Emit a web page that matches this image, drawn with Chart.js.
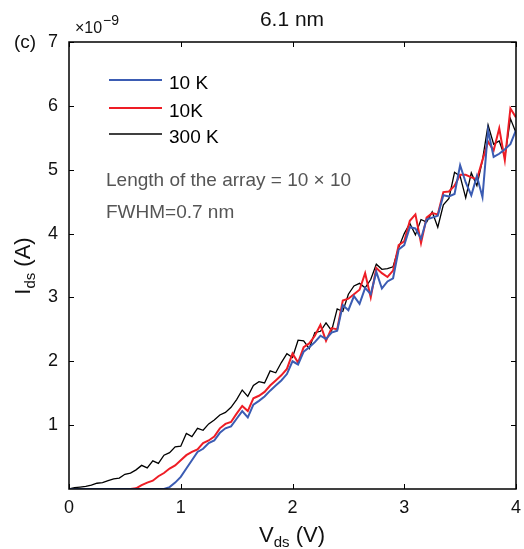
<!DOCTYPE html>
<html>
<head>
<meta charset="utf-8">
<script src="https://cdn.jsdelivr.net/npm/chart.js@4.4.1/dist/chart.umd.min.js"></script>
<style>
  html, body { margin: 0; padding: 0; background: #fff; }
  #wrap { width: 524px; height: 549px; }
</style>
</head>
<body>
<div id="wrap"><canvas id="ivChart" width="524" height="549"></canvas></div>
<script>
// Vds sweep, 0 to 4 V in 0.05 V steps
const vds = [];
for (let i = 0; i <= 80; i++) vds.push(+(i * 0.05).toFixed(2));

const seriesLabels = ["10 K", "10K", "300 K"];
const seriesColors = ["#3b5cb3", "#ee1d25", "#000000"];

// Ids in units of 1e-9 A
const blue10K = [
  0, 0, 0, 0, 0, 0, 0, 0, 0, 0, 0, 0, 0, 0, 0, 0, 0, 0,
  0.03, 0.10, 0.19, 0.32, 0.45, 0.58, 0.63, 0.72, 0.76, 0.88, 0.95, 0.98,
  1.10, 1.22, 1.12, 1.32, 1.38, 1.45, 1.54, 1.62, 1.70, 1.80,
  2.00, 1.95, 2.15, 2.22, 2.30, 2.40, 2.35, 2.45, 2.48, 2.88,
  2.80, 3.02, 2.90, 3.15, 3.05, 3.40, 3.14, 3.25, 3.30, 3.75,
  3.82, 4.10, 4.08, 3.92, 4.22, 4.25, 4.28, 4.60, 4.58, 4.62,
  5.07, 4.80, 4.60, 4.90, 4.57, 5.62, 5.20, 5.25, 5.32, 5.40, 5.62
];
const red10K = [
  0, 0, 0, 0, 0, 0, 0, 0, 0, 0, 0, 0,
  0.01, 0.06, 0.10, 0.13, 0.20, 0.25, 0.32, 0.37, 0.45, 0.53, 0.58, 0.62,
  0.72, 0.76, 0.82, 0.95, 1.02, 1.05, 1.18, 1.30, 1.22, 1.42, 1.46, 1.52,
  1.62, 1.70, 1.78, 1.88, 2.12, 1.98, 2.22, 2.28, 2.40, 2.57, 2.32, 2.52,
  2.50, 2.95, 2.98, 3.05, 3.12, 3.38, 3.00, 3.46, 3.38, 3.32, 3.42, 3.82,
  3.88, 4.20, 4.30, 3.85, 4.25, 4.32, 4.30, 4.65, 4.66, 4.75, 4.92, 4.92,
  4.88, 4.85, 5.15, 5.44, 5.30, 5.65, 5.15, 5.96, 5.82
];
const black300K = [
  0, 0.02, 0.03, 0.04, 0.06, 0.09, 0.10, 0.13, 0.16, 0.17,
  0.23, 0.25, 0.30, 0.37, 0.33, 0.44, 0.40, 0.53, 0.57, 0.66,
  0.67, 0.87, 0.82, 0.95, 0.92, 1.02, 1.08, 1.16, 1.20, 1.28,
  1.40, 1.55, 1.45, 1.62, 1.68, 1.66, 1.85, 1.82, 1.98, 2.12,
  2.06, 2.33, 2.32, 2.20, 2.45, 2.47, 2.60, 2.48, 2.82, 2.78,
  3.05, 3.18, 3.22, 3.15, 3.28, 3.52, 3.44, 3.45, 3.48, 3.78,
  4.00, 4.16, 3.98, 4.22, 4.18, 4.34, 4.10, 4.45, 4.55, 4.96,
  4.90, 4.56, 4.95, 4.75, 5.15, 5.70, 5.40, 5.45, 5.20, 5.80, 5.58
];
const seriesData = [blue10K, red10K, black300K];
const seriesWidths = [2, 2, 1.3];

const xTicks = [0, 1, 2, 3, 4];
const yTicks = [1, 2, 3, 4, 5, 6, 7];
const notes = ["Length of the array = 10 \u00d7 10", "FWHM=0.7 nm"];

const FONT = "Liberation Sans, Arial, Helvetica, sans-serif";

const datasets = seriesData.map((arr, k) => ({
  label: seriesLabels[k],
  data: arr.map((v, i) => ({ x: vds[i], y: v })),
  borderColor: seriesColors[k],
  borderWidth: seriesWidths[k],
  pointRadius: 0,
  tension: 0,
  fill: false
}));

// writes main text then a lowered subscript, then the rest
function subText(ctx, parts, cx, y, big, small) {
  ctx.font = big + "px " + FONT;
  const w1 = ctx.measureText(parts[0]).width;
  const w3 = ctx.measureText(parts[2]).width;
  ctx.font = small + "px " + FONT;
  const w2 = ctx.measureText(parts[1]).width;
  const x0 = cx - (w1 + w2 + w3) / 2;
  ctx.font = big + "px " + FONT;
  ctx.fillText(parts[0], x0, y);
  ctx.fillText(parts[2], x0 + w1 + w2, y);
  ctx.font = small + "px " + FONT;
  ctx.fillText(parts[1], x0 + w1, y + 5);
}

// frame, inward ticks, titles, legend and notes
const decor = {
  id: "decor",
  afterDraw(chart) {
    const ctx = chart.ctx;
    const a = chart.chartArea;
    const xs = chart.scales.x, ys = chart.scales.y;
    ctx.save();
    ctx.strokeStyle = "#000";
    ctx.lineWidth = 1.5;
    ctx.strokeRect(a.left, a.top, a.right - a.left, a.bottom - a.top);
    ctx.lineWidth = 1;
    ctx.beginPath();
    xTicks.forEach(t => {
      const p = Math.round(xs.getPixelForValue(t)) + 0.5;
      ctx.moveTo(p, a.bottom); ctx.lineTo(p, a.bottom - 5);
      ctx.moveTo(p, a.top); ctx.lineTo(p, a.top + 5);
    });
    yTicks.forEach(t => {
      const p = Math.round(ys.getPixelForValue(t)) + 0.5;
      ctx.moveTo(a.left, p); ctx.lineTo(a.left + 5, p);
      ctx.moveTo(a.right, p); ctx.lineTo(a.right - 5, p);
    });
    ctx.stroke();

    ctx.fillStyle = "#111";
    ctx.textBaseline = "alphabetic";
    ctx.textAlign = "left";
    // title
    ctx.font = "21px " + FONT;
    ctx.textAlign = "center";
    ctx.fillText("6.1 nm", 292, 26);
    ctx.textAlign = "left";
    // panel tag
    ctx.font = "19px " + FONT;
    ctx.fillText("(c)", 14, 48);
    // exponent
    ctx.font = "16px " + FONT;
    ctx.fillText("\u00d710", 75, 33);
    ctx.font = "14px " + FONT;
    ctx.fillText("\u22129", 103, 25);

    // axis titles
    subText(ctx, ["V", "ds", " (V)"], 292, 542, 22, 15);
    ctx.translate(30, 266);
    ctx.rotate(-Math.PI / 2);
    subText(ctx, ["I", "ds", " (A)"], 0, 0, 22, 15);
    ctx.setTransform(1, 0, 0, 1, 0, 0);

    // legend
    const ly = [80, 108, 134];
    ctx.font = "19px " + FONT;
    seriesLabels.forEach((lab, k) => {
      ctx.strokeStyle = seriesColors[k];
      ctx.lineWidth = seriesWidths[k];
      ctx.beginPath();
      ctx.moveTo(109, ly[k]); ctx.lineTo(162, ly[k]);
      ctx.stroke();
      ctx.fillStyle = "#000";
      ctx.fillText(lab, 169, ly[k] + 9);
    });

    // notes
    ctx.fillStyle = "#555";
    ctx.font = "19px " + FONT;
    ctx.fillText(notes[0], 106, 186);
    ctx.fillText(notes[1], 106, 218);
    ctx.restore();
  }
};

new Chart(document.getElementById("ivChart"), {
  type: "line",
  data: { datasets },
  options: {
    responsive: false,
    animation: false,
    layout: { padding: { left: 0, top: 42, right: 8, bottom: 0 } },
    plugins: { legend: { display: false }, tooltip: { enabled: false } },
    scales: {
      x: {
        type: "linear",
        min: 0, max: 4,
        afterFit: s => { s.height = 60; s.paddingLeft = 0; s.paddingRight = 0; },
        afterBuildTicks: s => { s.ticks = xTicks.map(v => ({ value: v })); },
        grid: { display: false, drawTicks: false },
        border: { display: false },
        ticks: { padding: 8, color: "#111", font: { family: FONT, size: 18 } }
      },
      y: {
        type: "linear",
        min: 0, max: 7,
        afterFit: s => { s.width = 69; s.paddingTop = 0; s.paddingBottom = 0; },
        afterBuildTicks: s => { s.ticks = yTicks.map(v => ({ value: v })); },
        grid: { display: false, drawTicks: false },
        border: { display: false },
        ticks: { padding: 11, color: "#111", font: { family: FONT, size: 18 } }
      }
    }
  },
  plugins: [decor]
});
</script>
</body>
</html>
